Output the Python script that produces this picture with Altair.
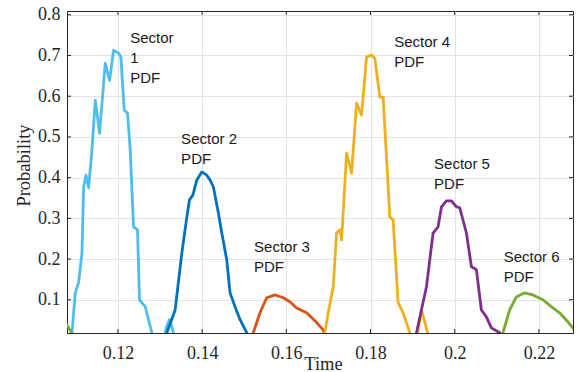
import altair as alt
import pandas as pd

# ---- data ----
s1_t = [0.10857, 0.10909, 0.10987, 0.11065, 0.11146, 0.11184, 0.11241, 0.11303, 0.11383, 0.11462,
        0.11564, 0.11699, 0.11801, 0.11896, 0.12014, 0.12071, 0.12149, 0.12228, 0.12292, 0.12370,
        0.12465, 0.12512, 0.12648, 0.12806, 0.12861, 0.13074, 0.13146, 0.13224, 0.13288, 0.13383]
s1_p = [-0.01, 0.019, 0.117, 0.142, 0.215, 0.377, 0.406, 0.375, 0.468, 0.590,
        0.509, 0.681, 0.639, 0.713, 0.706, 0.696, 0.566, 0.558, 0.468, 0.279,
        0.272, 0.100, 0.083, 0.019, -0.01, -0.01, 0.031, 0.051, 0.031, -0.01]

s2_t = [0.13120, 0.13162, 0.13359, 0.13518, 0.13637, 0.13698, 0.13779, 0.13874, 0.13992, 0.14111,
        0.14189, 0.14268, 0.14386, 0.14467, 0.14585, 0.14664, 0.14782, 0.14901, 0.15060, 0.15138]
s2_p = [-0.01, 0.019, 0.075, 0.215, 0.303, 0.345, 0.357, 0.394, 0.414, 0.406,
        0.394, 0.377, 0.313, 0.264, 0.198, 0.117, 0.083, 0.051, 0.019, -0.01]

s3_t = [0.15126, 0.15216, 0.15375, 0.15534, 0.15731, 0.15928, 0.16087, 0.16246, 0.16483, 0.16720,
        0.16877, 0.16964]
s3_p = [-0.01, 0.019, 0.068, 0.105, 0.112, 0.105, 0.095, 0.080, 0.068, 0.044,
        0.026, -0.01]

s4_t = [0.16869, 0.16916, 0.16995, 0.17114, 0.17194, 0.17273, 0.17313, 0.17432, 0.17550, 0.17669,
        0.17787, 0.17906, 0.18024, 0.18103, 0.18222, 0.18300, 0.18459, 0.18537, 0.18656, 0.18774,
        0.18933, 0.18980, 0.19075, 0.19211, 0.19431]
s4_p = [-0.01, 0.019, 0.068, 0.132, 0.264, 0.272, 0.247, 0.460, 0.411, 0.583,
        0.554, 0.696, 0.701, 0.693, 0.598, 0.598, 0.303, 0.296, 0.093, 0.068,
        0.019, -0.01, -0.01, 0.075, -0.01]

s5_t = [0.19028, 0.19092, 0.19329, 0.19486, 0.19604, 0.19685, 0.19803, 0.19922, 0.20041, 0.20119,
        0.20278, 0.20397, 0.20515, 0.20634, 0.20752, 0.20871, 0.21068, 0.21139]
s5_p = [-0.01, 0.019, 0.132, 0.264, 0.279, 0.328, 0.343, 0.343, 0.328, 0.326,
        0.264, 0.181, 0.174, 0.075, 0.058, 0.031, 0.019, -0.01]

s6_t = [0.10750, 0.10940, 0.11000, 0.21092, 0.21146, 0.21305, 0.21464, 0.21660, 0.21858, 0.22095,
        0.22294, 0.22491, 0.22688, 0.22807, 0.22918]
s6_p = [0.045, 0.012, -0.01, -0.01, 0.019, 0.075, 0.107, 0.117, 0.112, 0.100,
        0.083, 0.068, 0.046, 0.031, 0.014]

sectors = ["Sector 1", "Sector 2", "Sector 3", "Sector 4", "Sector 5", "Sector 6"]
colors = ["#4DBEEE", "#0072BD", "#D95319", "#EDB120", "#7E2F8E", "#77AC30"]

label_text = ["Sector\n1\nPDF", "Sector 2\nPDF", "Sector 3\nPDF", "Sector 4\nPDF", "Sector 5\nPDF", "Sector 6\nPDF"]
label_t = [0.12292, 0.13501, 0.15233, 0.18561, 0.19510, 0.21163]
label_p = [0.7605, 0.5114, 0.2456, 0.7507, 0.4501, 0.2211]

x_ticks = [0.12, 0.14, 0.16, 0.18, 0.20, 0.22]
y_ticks = [0.1, 0.2, 0.3, 0.4, 0.5, 0.6, 0.7, 0.8]
x_domain = [0.1079, 0.2281]
y_domain = [0.0184, 0.8093]

# ---- build tables ----
rows = []
for name, ts, ps in zip(sectors, [s1_t, s2_t, s3_t, s4_t, s5_t, s6_t],
                        [s1_p, s2_p, s3_p, s4_p, s5_p, s6_p]):
    for i, (t, p) in enumerate(zip(ts, ps)):
        rows.append({"sector": name, "t": t, "p": p, "i": i})
df = pd.DataFrame(rows)
labels = pd.DataFrame({"label": label_text, "t": label_t, "p": label_p})
xt = pd.DataFrame({"t": x_ticks})
yt = pd.DataFrame({"p": y_ticks})

W, H = 506, 322
TL = 4  # inward tick length (px)

xscale = alt.Scale(domain=x_domain, nice=False, zero=False)
yscale = alt.Scale(domain=y_domain, nice=False, zero=False)

lines = alt.Chart(df).mark_line(strokeWidth=2.8, clip=True, strokeJoin="round", strokeCap="round").encode(
    x=alt.X("t:Q", scale=xscale, title="Time",
            axis=alt.Axis(values=x_ticks, format=".2~f")),
    y=alt.Y("p:Q", scale=yscale, title="Probability",
            axis=alt.Axis(values=y_ticks, format=".1~f")),
    color=alt.Color("sector:N", scale=alt.Scale(domain=sectors, range=colors), legend=None),
    order=alt.Order("i:Q"),
)

tick_style = dict(color="#262626", strokeWidth=1)
xt_bottom = alt.Chart(xt).mark_rule(**tick_style).encode(
    x=alt.X("t:Q", scale=xscale), y=alt.value(H), y2=alt.value(H - TL))
xt_top = alt.Chart(xt).mark_rule(**tick_style).encode(
    x=alt.X("t:Q", scale=xscale), y=alt.value(0), y2=alt.value(TL))
yt_left = alt.Chart(yt).mark_rule(**tick_style).encode(
    y=alt.Y("p:Q", scale=yscale), x=alt.value(0), x2=alt.value(TL))
yt_right = alt.Chart(yt).mark_rule(**tick_style).encode(
    y=alt.Y("p:Q", scale=yscale), x=alt.value(W), x2=alt.value(W - TL))

text = alt.Chart(labels).mark_text(align="left", baseline="top", lineBreak="\n", lineHeight=20,
                                   font="Liberation Sans", fontSize=15, color="#1a1a1a").encode(
    x=alt.X("t:Q", scale=xscale),
    y=alt.Y("p:Q", scale=yscale),
    text="label:N",
)

chart = alt.layer(lines, xt_bottom, xt_top, yt_left, yt_right, text).properties(
    width=W, height=H,
    autosize=alt.AutoSizeParams(type="none"),
    padding={"left": 67, "top": 11, "right": 4, "bottom": 39},
    background="white",
).configure_view(stroke="#262626", strokeWidth=1).configure_axis(
    gridColor="#e3e3e3", gridWidth=1, domainColor="#262626", domainWidth=1, labelBound=False,
    grid=True, ticks=False, labelFont="Liberation Serif", labelFontSize=18, labelColor="#262626",
    titleFont="Liberation Serif", titleFontSize=18.5, titleFontWeight="normal", titleColor="#262626",
).configure_axisX(
    labelPadding=11, titleX=256, titleY=36, titleAlign="center", titleBaseline="alphabetic",
).configure_axisY(
    labelPadding=7, titleX=-44, titleY=154, titleAlign="center", titleBaseline="middle", titleAngle=270,
)

chart.save("out.html", embed_options={"renderer": "svg", "actions": False})
